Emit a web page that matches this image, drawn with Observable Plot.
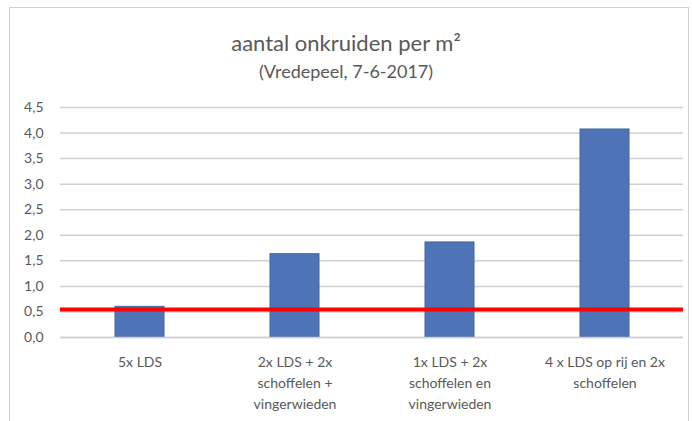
<!DOCTYPE html>
<html>
<head>
<meta charset="utf-8">
<script src="https://cdn.jsdelivr.net/npm/d3@7"></script>
<script src="https://cdn.jsdelivr.net/npm/@observablehq/plot@0.6"></script>
<style>
  body { margin: 0; background: #fff; }
  #wrap { position: relative; width: 692px; height: 421px; overflow: hidden; font-family: Lato, "Open Sans", sans-serif; }
  #frame { position: absolute; left: 9px; top: 7px; width: 680px; height: 430px; border: 1px solid #d0d0d0; box-sizing: border-box; }
  #title { position: absolute; left: 0; width: 692px; top: 30px; text-align: center; font-size: 22px; color: #595959; line-height: 26px; font-weight: 400; }
  #subtitle { position: absolute; left: 0; width: 692px; top: 60px; text-align: center; font-size: 18px; color: #595959; line-height: 22px; font-weight: 400; }
  #chart { position: absolute; left: 0; top: 90px; }
</style>
</head>
<body>
<div id="wrap">
  <div id="frame"></div>
  <div id="title">aantal onkruiden per m²</div>
  <div id="subtitle">(Vredepeel, 7-6-2017)</div>
  <div id="chart"></div>
</div>
<script>
const categories = [
  "5x LDS",
  "2x LDS + 2x\nschoffelen +\nvingerwieden",
  "1x LDS + 2x\nschoffelen en\nvingerwieden",
  "4 x LDS op rij en 2x\nschoffelen"
];
const values = [0.60, 1.63, 1.86, 4.07];
const referenceValue = [0.55];
const yTicks = [0, 0.5, 1, 1.5, 2, 2.5, 3, 3.5, 4, 4.5];

const data = categories.map((c, i) => ({category: c, value: values[i]}));
const fmt = v => v.toFixed(1).replace(".", ",");

const chart = Plot.plot({
  width: 692,
  height: 331,
  marginTop: 17,
  marginBottom: 84,
  marginLeft: 60,
  marginRight: 9,
  style: {fontFamily: "Lato, 'Open Sans', sans-serif", color: "#595959", background: "transparent"},
  x: {domain: categories, paddingInner: 0.685, paddingOuter: 0.3425, label: null},
  y: {domain: [0, 4.5], label: null},
  marks: [
    Plot.gridY(yTicks, {stroke: "#d0d0d0", strokeOpacity: 1, strokeWidth: 1.5}),
    Plot.axisY(yTicks, {tickSize: 0, tickPadding: 17, tickFormat: fmt, fontSize: 14, label: null, fill: "#595959"}),
    Plot.barY(data, {x: "category", y: "value", fill: "#4e73b6", stroke: "#41679f", strokeWidth: 1}),
    Plot.ruleY(referenceValue, {stroke: "#ff0000", strokeWidth: 4}),
    Plot.ruleY([0], {stroke: "#d0d0d0", strokeWidth: 1.5}),
    Plot.axisX({tickSize: 0, tickPadding: 15, fontSize: 14, lineHeight: 1.5, label: null, fill: "#595959"})
  ]
});
document.getElementById("chart").appendChild(chart);
</script>
</body>
</html>
